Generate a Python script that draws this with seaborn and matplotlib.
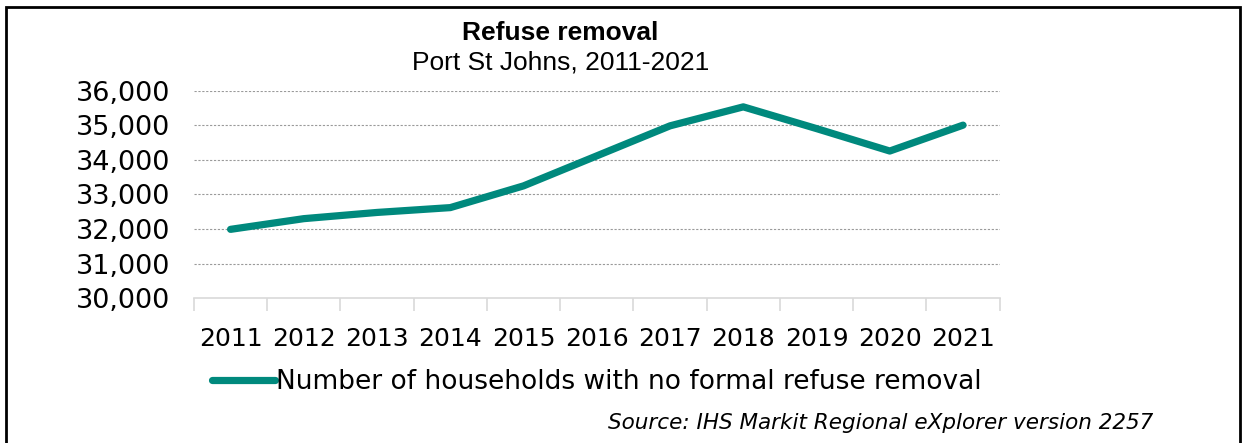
import matplotlib
matplotlib.use("Agg")
import matplotlib.pyplot as plt
from matplotlib.patches import Rectangle
from matplotlib.ticker import FixedLocator, FuncFormatter
import seaborn as sns
import pandas as pd

years = ["2011", "2012", "2013", "2014", "2015", "2016",
         "2017", "2018", "2019", "2020", "2021"]
households = [31990, 32300, 32480, 32620, 33250, 34120,
              34990, 35540, 34910, 34260, 35010]
series_name = "Number of households with no formal refuse removal"

df = pd.DataFrame({"year": years, "value": households})

sns.set_theme(style="white")
plt.rcParams["font.family"] = ["DejaVu Sans"]
plt.rcParams["text.color"] = "black"

fig = plt.figure(figsize=(12.48, 4.43), dpi=100)
ax = fig.add_axes([0.1554, 0.3273, 0.6456, 0.4673])

sns.lineplot(data=df, x="year", y="value", ax=ax, color="#00897d",
             linewidth=5.2, label=series_name, solid_capstyle="round")

ax.set_xlim(-0.5, len(years) - 0.5)
ax.set_ylim(30000, 36000)
ax.set_yticks(range(30000, 36001, 1000))
ax.yaxis.set_major_formatter(FuncFormatter(lambda v, p: f"{int(v):,}"))
ax.set_xlabel("")
ax.set_ylabel("")

for y in range(31000, 36001, 1000):
    ax.axhline(y, color="#9a9a9a", linewidth=0.8, linestyle=(0, (2, 1.5)), zorder=0)

for s in ["top", "right", "left"]:
    ax.spines[s].set_visible(False)
ax.spines["bottom"].set_color("#d9d9d9")
ax.spines["bottom"].set_linewidth(1.2)

ax.xaxis.set_minor_locator(FixedLocator([i - 0.5 for i in range(len(years) + 1)]))
ax.tick_params(axis="x", which="minor", length=9, color="#d9d9d9", width=1.2, bottom=True)
ax.tick_params(axis="x", which="major", length=0, labelsize=18, pad=21, colors="black")
ax.tick_params(axis="y", length=0, labelsize=19.5, pad=17, colors="black")

leg = ax.legend(loc="center", bbox_to_anchor=(0.5, -0.405), frameon=False,
                fontsize=19, handlelength=2.4, handletextpad=0.05)
for t in leg.get_texts():
    t.set_color("black")

fig.text(0.449, 0.926, "Refuse removal", ha="center", va="center",
         fontsize=19, fontweight="bold", family=["Liberation Sans"])
fig.text(0.449, 0.858, "Port St Johns, 2011-2021", ha="center", va="center",
         fontsize=19, family=["Liberation Sans"])
fig.text(0.924, 0.045, "Source: IHS Markit Regional eXplorer version 2257",
         ha="right", va="center", fontsize=15.5, style="italic")

fig.patches.append(Rectangle((6 / 1248, -0.05), 1234 / 1248, 1.05 - 7 / 443,
                             transform=fig.transFigure, fill=False,
                             edgecolor="black", linewidth=2))

fig.savefig("out.png", dpi=100)
